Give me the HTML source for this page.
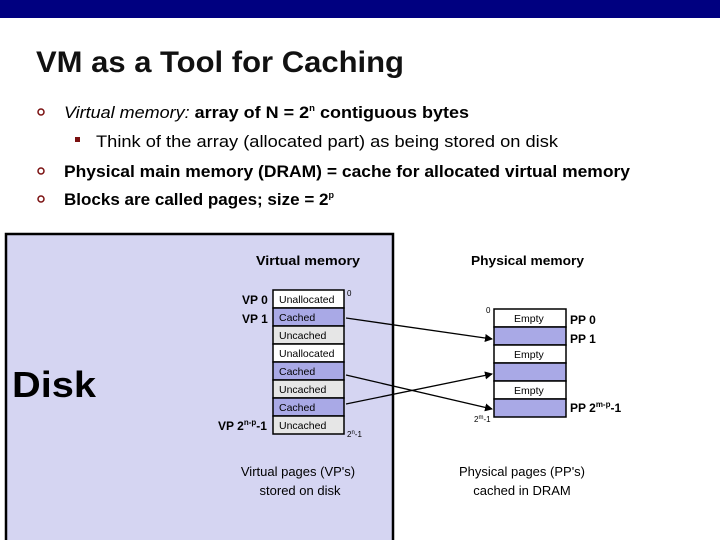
<!DOCTYPE html>
<html><head><meta charset="utf-8"><style>
html,body{margin:0;padding:0;background:#fff}
body{width:720px;height:540px;overflow:hidden;position:relative;font-family:"Liberation Sans",sans-serif}
</style></head><body>
<svg width="720" height="540" xmlns="http://www.w3.org/2000/svg" style="position:absolute;left:0;top:0" font-family="Liberation Sans, sans-serif">
<defs><marker id="a" markerWidth="8" markerHeight="8" refX="7" refY="4" orient="auto" markerUnits="userSpaceOnUse"><path d="M0,0 L8,4 L0,8 z" fill="#000"/></marker></defs>
<rect x="0" y="0" width="720" height="18" fill="#000080"/>
<text x="36" y="72" font-size="30" font-weight="bold" fill="#111" textLength="368" lengthAdjust="spacingAndGlyphs">VM as a Tool for Caching</text>
<g font-size="17" font-weight="bold" fill="#000">
<circle cx="41" cy="112" r="3" fill="none" stroke="#7a1010" stroke-width="1.5"/>
<text x="64" y="118" textLength="405" lengthAdjust="spacingAndGlyphs"><tspan font-style="italic" font-weight="normal">Virtual memory:</tspan> array of N = 2<tspan font-size="9" dy="-7">n</tspan><tspan dy="7"> contiguous bytes</tspan></text>
<rect x="75" y="137" width="5" height="5" fill="#7a1010"/>
<text x="96" y="147" font-weight="normal" textLength="462" lengthAdjust="spacingAndGlyphs">Think of the array (allocated part) as being stored on disk</text>
<circle cx="41" cy="171" r="3" fill="none" stroke="#7a1010" stroke-width="1.5"/>
<text x="64" y="177" textLength="566" lengthAdjust="spacingAndGlyphs">Physical main memory (DRAM) = cache for allocated virtual memory</text>
<circle cx="41" cy="199" r="3" fill="none" stroke="#7a1010" stroke-width="1.5"/>
<text x="64" y="205" textLength="270" lengthAdjust="spacingAndGlyphs">Blocks are called pages; size = 2<tspan font-size="9" dy="-7">p</tspan></text>
</g>
<rect x="6" y="234" width="387" height="310" fill="#d5d5f2" stroke="#000" stroke-width="2.5"/>
<text x="12" y="397" font-size="36" font-weight="bold" fill="#000" textLength="84" lengthAdjust="spacingAndGlyphs">Disk</text>
<text x="256" y="265" font-size="13" font-weight="bold" textLength="104" lengthAdjust="spacingAndGlyphs">Virtual memory</text>
<text x="471" y="265" font-size="13" font-weight="bold" textLength="113" lengthAdjust="spacingAndGlyphs">Physical memory</text>
<g font-size="11" stroke="#000" stroke-width="1.5">
<rect x="273" y="290" width="71" height="18" fill="#fff"/>
<rect x="273" y="308" width="71" height="18" fill="#a9a9e6"/>
<rect x="273" y="326" width="71" height="18" fill="#e6e6e6"/>
<rect x="273" y="344" width="71" height="18" fill="#fff"/>
<rect x="273" y="362" width="71" height="18" fill="#a9a9e6"/>
<rect x="273" y="380" width="71" height="18" fill="#e6e6e6"/>
<rect x="273" y="398" width="71" height="18" fill="#a9a9e6"/>
<rect x="273" y="416" width="71" height="18" fill="#e6e6e6"/>
<rect x="494" y="309" width="72" height="18" fill="#fff"/>
<rect x="494" y="327" width="72" height="18" fill="#a9a9e6"/>
<rect x="494" y="345" width="72" height="18" fill="#fff"/>
<rect x="494" y="363" width="72" height="18" fill="#a9a9e6"/>
<rect x="494" y="381" width="72" height="18" fill="#fff"/>
<rect x="494" y="399" width="72" height="18" fill="#a9a9e6"/>
</g>
<g font-size="10.5" fill="#000">
<text x="279" y="303">Unallocated</text>
<text x="279" y="321">Cached</text>
<text x="279" y="339">Uncached</text>
<text x="279" y="357">Unallocated</text>
<text x="279" y="375">Cached</text>
<text x="279" y="393">Uncached</text>
<text x="279" y="411">Cached</text>
<text x="279" y="429">Uncached</text>
<text x="514" y="322">Empty</text>
<text x="514" y="358">Empty</text>
<text x="514" y="394">Empty</text>
<text x="347" y="296" font-size="8">0</text>
<text x="347" y="437" font-size="8">2<tspan font-size="6" dy="-3">n</tspan><tspan dy="3">-1</tspan></text>
<text x="486" y="313" font-size="8">0</text>
<text x="474" y="422" font-size="8">2<tspan font-size="6" dy="-3">m</tspan><tspan dy="3">-1</tspan></text>
</g>
<g font-size="12" font-weight="bold" fill="#000">
<text x="242" y="304">VP 0</text>
<text x="242" y="323">VP 1</text>
<text x="218" y="430">VP 2<tspan font-size="8" dy="-5">n-p</tspan><tspan dy="5">-1</tspan></text>
<text x="570" y="324">PP 0</text>
<text x="570" y="343">PP 1</text>
<text x="570" y="412">PP 2<tspan font-size="8" dy="-5">m-p</tspan><tspan dy="5">-1</tspan></text>
</g>
<g stroke="#000" stroke-width="1.3" fill="none" marker-end="url(#a)">
<line x1="346" y1="318" x2="492" y2="339"/>
<line x1="346" y1="375" x2="492" y2="409"/>
<line x1="346" y1="404" x2="492" y2="374"/>
</g>
<g font-size="13" fill="#000" text-anchor="middle">
<text x="298" y="476">Virtual pages (VP's)</text>
<text x="300" y="495">stored on disk</text>
<text x="522" y="476">Physical pages (PP's)</text>
<text x="522" y="495">cached in DRAM</text>
</g>
</svg>
</body></html>
